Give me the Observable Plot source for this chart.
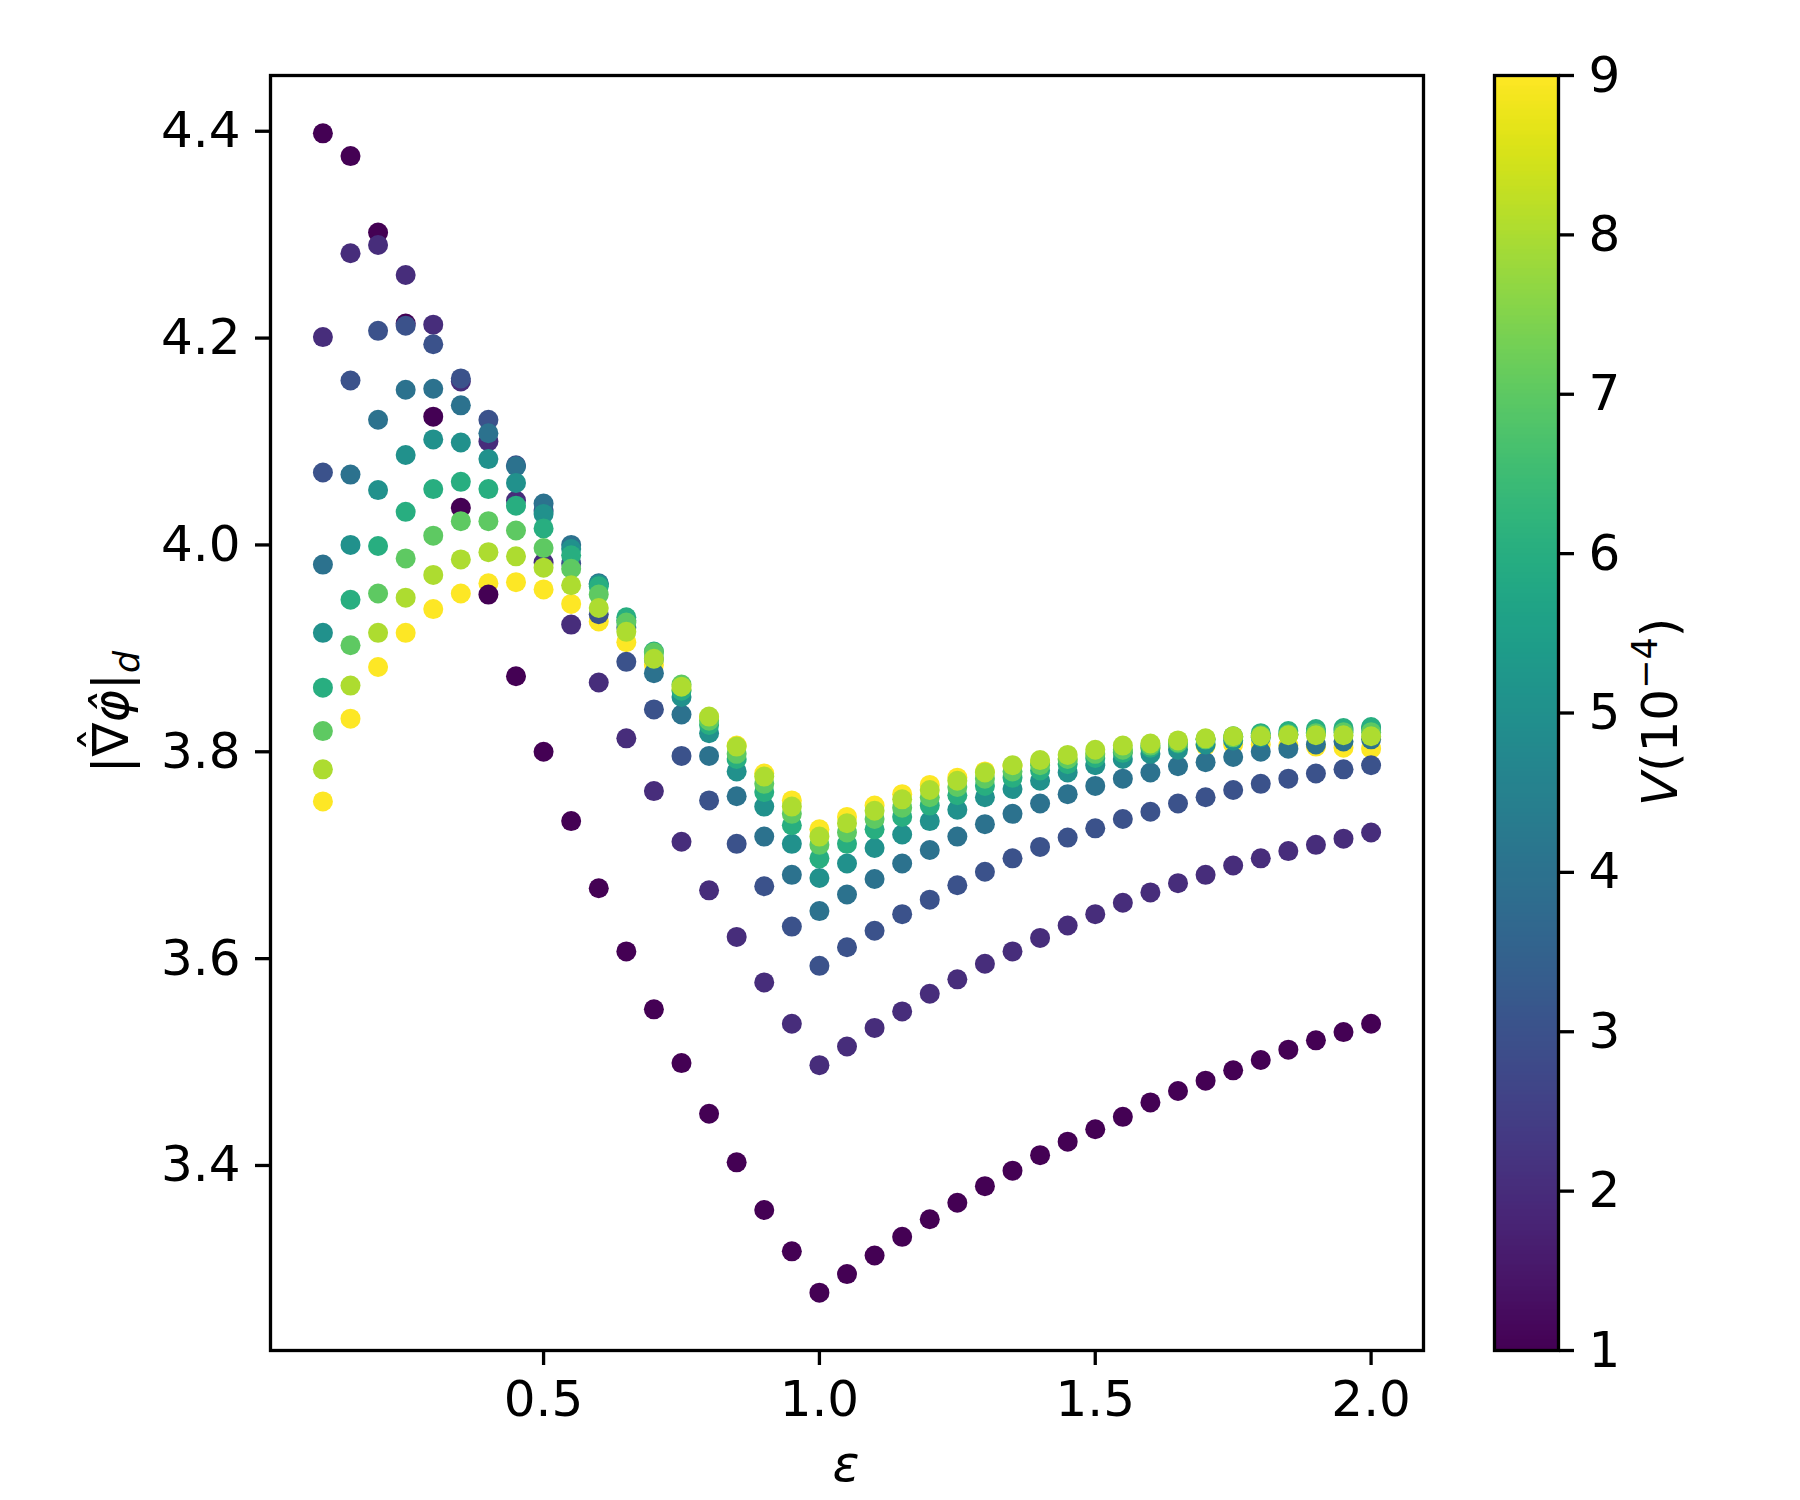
<!DOCTYPE html>
<html><head><meta charset="utf-8">
<script src="https://cdn.jsdelivr.net/npm/d3@7"></script>
<script src="https://cdn.jsdelivr.net/npm/@observablehq/plot@0.6"></script>
<style>
html,body{margin:0;padding:0;background:#fff;}
#wrap{position:relative;width:1800px;height:1500px;}
#wrap svg{position:absolute;top:0;left:0;}
</style></head><body><div id="wrap"></div>
<script>
// epsilon values (x)
const eps = [0.1,0.15,0.2,0.25,0.3,0.35,0.4,0.45,0.5,0.55,0.6,0.65,0.7,0.75,0.8,0.85,0.9,0.95,1.0,1.05,1.1,1.15,1.2,1.25,1.3,1.35,1.4,1.45,1.5,1.55,1.6,1.65,1.7,1.75,1.8,1.85,1.9,1.95,2.0];
// V levels (10^-4)
const Vlevels = [1,2,3,4,5,6,7,8,9];
// |grad phi|_d for each V
const v1 = [4.398,4.376,4.302,4.214,4.124,4.036,3.952,3.873,3.800,3.733,3.668,3.607,3.551,3.499,3.450,3.403,3.357,3.317,3.277,3.295,3.313,3.331,3.348,3.364,3.380,3.395,3.410,3.423,3.435,3.447,3.461,3.472,3.482,3.492,3.502,3.512,3.521,3.529,3.537];
const v2 = [4.201,4.282,4.290,4.261,4.213,4.158,4.100,4.043,3.983,3.923,3.867,3.813,3.762,3.713,3.666,3.621,3.577,3.537,3.497,3.515,3.533,3.549,3.566,3.580,3.595,3.607,3.620,3.632,3.643,3.654,3.664,3.673,3.681,3.690,3.697,3.704,3.710,3.716,3.722];
const v3 = [4.070,4.159,4.207,4.212,4.194,4.161,4.121,4.077,4.033,3.982,3.933,3.887,3.841,3.796,3.753,3.711,3.670,3.631,3.593,3.611,3.627,3.643,3.657,3.671,3.684,3.697,3.708,3.717,3.726,3.735,3.742,3.750,3.756,3.763,3.769,3.774,3.779,3.783,3.787];
const v4 = [3.981,4.068,4.121,4.150,4.151,4.135,4.108,4.076,4.040,4.000,3.963,3.920,3.876,3.836,3.796,3.757,3.718,3.681,3.646,3.662,3.677,3.692,3.705,3.718,3.730,3.740,3.750,3.759,3.767,3.774,3.780,3.786,3.790,3.795,3.800,3.803,3.807,3.810,3.812];
const v5 = [3.915,4.000,4.053,4.087,4.102,4.099,4.083,4.060,4.030,3.996,3.962,3.927,3.890,3.853,3.818,3.781,3.747,3.711,3.678,3.692,3.707,3.720,3.733,3.744,3.756,3.764,3.772,3.780,3.787,3.793,3.798,3.802,3.807,3.811,3.814,3.817,3.819,3.821,3.823];
const v6 = [3.862,3.947,3.999,4.032,4.054,4.061,4.054,4.038,4.016,3.990,3.960,3.930,3.897,3.859,3.826,3.793,3.761,3.729,3.697,3.711,3.725,3.737,3.748,3.758,3.767,3.775,3.782,3.788,3.794,3.799,3.804,3.808,3.812,3.815,3.818,3.820,3.822,3.823,3.824];
const v7 = [3.820,3.903,3.953,3.987,4.009,4.023,4.023,4.014,3.997,3.977,3.952,3.925,3.896,3.865,3.830,3.798,3.769,3.740,3.710,3.722,3.735,3.746,3.756,3.766,3.774,3.781,3.787,3.793,3.798,3.802,3.806,3.809,3.812,3.814,3.816,3.817,3.818,3.819,3.819];
const v8 = [3.783,3.864,3.915,3.949,3.971,3.986,3.993,3.989,3.978,3.961,3.939,3.916,3.890,3.863,3.834,3.805,3.776,3.747,3.718,3.731,3.743,3.754,3.763,3.772,3.780,3.787,3.792,3.797,3.802,3.806,3.808,3.811,3.813,3.815,3.815,3.816,3.816,3.816,3.815];
const v9 = [3.752,3.832,3.882,3.915,3.938,3.953,3.963,3.964,3.957,3.943,3.926,3.906,3.884,3.860,3.833,3.806,3.779,3.753,3.725,3.737,3.748,3.759,3.768,3.775,3.781,3.786,3.790,3.793,3.797,3.800,3.803,3.805,3.806,3.807,3.807,3.806,3.805,3.804,3.803];
const seriesValues = [v1,v2,v3,v4,v5,v6,v7,v8,v9];
const drawOrder = [9,1,2,3,4,5,6,7,8];
// ticks
const xTicks = [0.5,1.0,1.5,2.0];
const yTicks = [3.4,3.6,3.8,4.0,4.2,4.4];
const cbTicks = [1,2,3,4,5,6,7,8,9];

const points = drawOrder.flatMap(v => eps.map((e, i) => ({eps: e, g: seriesValues[Vlevels.indexOf(v)][i], V: v})));

const FONT = "DejaVu Sans";
const LW = 3.3;
const fmt = d3.format(".1f");
const colorOpts = {type: "linear", scheme: "viridis", domain: [1, 9]};

const main = Plot.plot({
  width: 1800, height: 1500,
  marginLeft: 270, marginRight: 377, marginTop: 75, marginBottom: 150,
  style: {fontFamily: FONT, fontSize: "50px", color: "#000", background: "transparent", overflow: "visible"},
  x: {domain: [0.005, 2.095]},
  y: {domain: [3.2211, 4.4539]},
  color: colorOpts,
  marks: [
    Plot.dot(points, {x: "eps", y: "g", fill: "V", r: 10}),
    Plot.frame({stroke: "#000", strokeWidth: LW}),
    Plot.axisX({ticks: xTicks, tickFormat: fmt, tickSize: 15, tickPadding: 15, strokeWidth: LW, label: null}),
    Plot.axisY({ticks: yTicks, tickFormat: fmt, tickSize: 15, tickPadding: 15, strokeWidth: LW, label: null})
  ]
});

const rampMark = Plot.raster
  ? Plot.raster({x1: 0, x2: 1, y1: 1, y2: 9, width: 1, height: 600, fill: (x, y) => y, imageRendering: "auto"})
  : Plot.rect(d3.range(600).map(i => ({lo: 1 + 8 * i / 600, hi: 1 + 8 * (i + 1) / 600})), {x1: 0, x2: 1, y1: "lo", y2: "hi", fill: d => (d.lo + d.hi) / 2, shapeRendering: "crispEdges"});

const cb = Plot.plot({
  width: 1800, height: 1500,
  marginLeft: 1494, marginRight: 242, marginTop: 75, marginBottom: 150,
  style: {fontFamily: FONT, fontSize: "50px", color: "#000", background: "transparent", overflow: "visible"},
  x: {domain: [0, 1], axis: null},
  y: {domain: [1, 9]},
  color: colorOpts,
  marks: [
    rampMark,
    Plot.frame({stroke: "#000", strokeWidth: LW}),
    Plot.axisY({anchor: "right", ticks: cbTicks, tickFormat: d3.format("d"), tickSize: 15, tickPadding: 15, strokeWidth: LW, label: null})
  ]
});

const wrap = document.getElementById("wrap");
wrap.appendChild(main);
wrap.appendChild(cb);

// axis labels
const s1 = d3.select(main);
s1.append("text")
  .attr("x", 846).attr("y", 1481).attr("text-anchor", "middle")
  .style("font-family", FONT).style("font-size", "50px").style("font-style", "italic")
  .attr("fill", "#000").text("ε");

const yl = s1.append("text")
  .attr("transform", "translate(128,712) rotate(-90)").attr("text-anchor", "middle")
  .style("font-family", FONT).style("font-size", "50px").attr("fill", "#000");
yl.append("tspan").text("|");
yl.append("tspan").text("∇");
const hat = yl.append("tspan").text("ˆ");
const phi = yl.append("tspan").style("font-style", "italic").text("φ\u0302");
yl.append("tspan").text("|");
yl.append("tspan").style("font-style", "italic").style("font-size", "35px").attr("dy", 11).text("d");
try {
  const node = yl.node();
  const wN = node.getSubStringLength(1, 1);
  const wH = node.getSubStringLength(2, 1);
  hat.attr("dx", -(wN + wH) / 2).attr("dy", -11);
  phi.attr("dx", (wN - wH) / 2).attr("dy", 11);
} catch (e) {
  hat.text("");
}

const s2 = d3.select(cb);
const cl = s2.append("text")
  .attr("transform", "translate(1677,712) rotate(-90)").attr("text-anchor", "middle")
  .style("font-family", FONT).style("font-size", "50px").attr("fill", "#000");
cl.append("tspan").style("font-style", "italic").text("V");
cl.append("tspan").text("(10");
cl.append("tspan").style("font-size", "35px").attr("dy", -20).text("−4");
cl.append("tspan").attr("dy", 20).text(")");
</script>
</body></html>
